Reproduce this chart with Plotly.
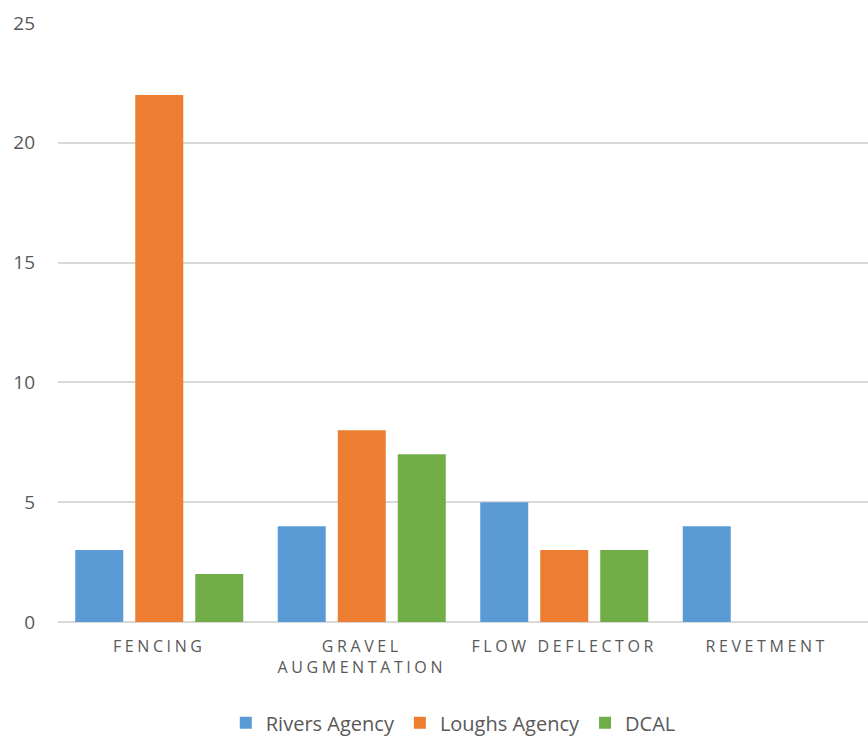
import plotly.graph_objects as go

categories = ["FENCING", "GRAVEL<br>AUGMENTATION", "FLOW DEFLECTOR", "REVETMENT"]
rivers_agency = [3, 4, 5, 4]
loughs_agency = [22, 8, 3, 0]
dcal = [2, 7, 3, 0]
y_ticks = [0, 5, 10, 15, 20, 25]

series = [
    ("Rivers Agency", rivers_agency, "#5B9BD5"),
    ("Loughs Agency", loughs_agency, "#ED7D31"),
    ("DCAL", dcal, "#70AD47"),
]

fig = go.Figure()
for name, vals, color in series:
    fig.add_trace(go.Bar(x=categories, y=vals, name=name, marker=dict(color=color, line=dict(width=0))))

fig.update_layout(
    width=868, height=739,
    margin=dict(l=58, r=0, t=23, b=117),
    paper_bgcolor="white", plot_bgcolor="white",
    barmode="group", bargap=0.111, bargroupgap=0.2,
    font=dict(family="Open Sans", color="#595959"),
    xaxis=dict(showgrid=False, ticks="", tickfont=dict(size=16, color="#595959"),
               showline=False, ticklabelstandoff=13, automargin=False),
    yaxis=dict(range=[0, 25], tickvals=y_ticks, showgrid=True, gridcolor="#D9D9D9",
               gridwidth=1.5, zeroline=True, zerolinecolor="#D9D9D9", zerolinewidth=1.5,
               tickfont=dict(size=19, color="#595959"), ticks="", ticklabelstandoff=22,
               automargin=False),
    legend=dict(orientation="h", x=0.488, xanchor="center", yref="container",
                y=0.022, yanchor="middle",
                font=dict(size=20, color="#595959"), itemwidth=30),
    showlegend=True,
)

post = """
document.body.style.margin='0';
function sp(){document.querySelectorAll('.xtick text, .xtick tspan').forEach(function(t){t.style.letterSpacing='3.6px';});}
sp();
"""
fig.write_html("out.html", post_script=post, config={"displayModeBar": False})
